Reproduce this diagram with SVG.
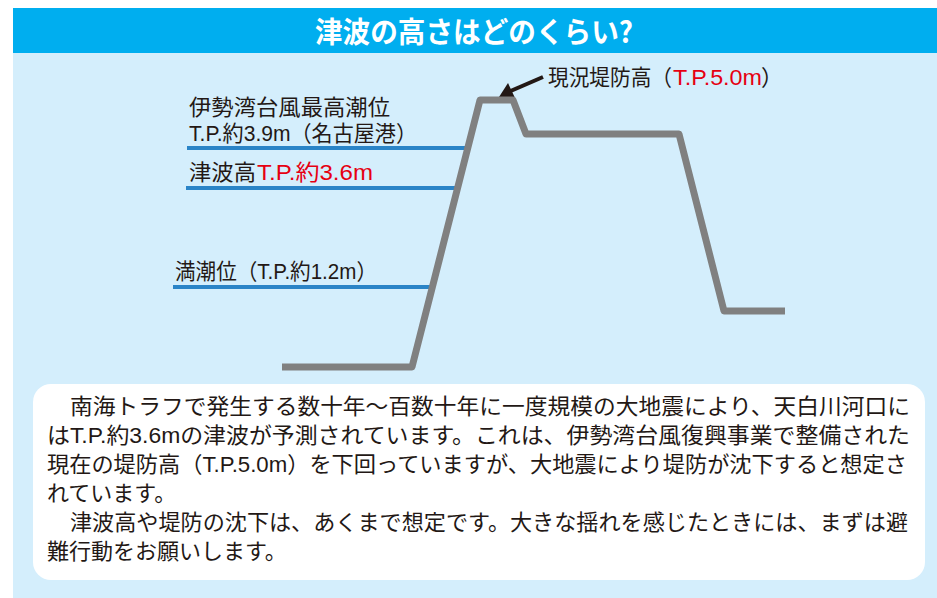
<svg xmlns="http://www.w3.org/2000/svg" width="937" height="598" viewBox="0 0 937 598">
  <style>
    .jp { font-family: "Liberation Sans", "Noto Sans CJK JP", sans-serif; fill: #231815; }
    .lbl { font-size: 22px; }
    .body { font-size: 22px; }
    .red { fill: #E60012; }
    .level { stroke: #2A84C7; stroke-width: 4; fill: none; }
    .dike { stroke: #808080; stroke-width: 7; fill: none; stroke-linejoin: round; }
  </style>

  <rect width="937" height="598" fill="#ffffff"/>
  <rect id="panel" x="13" y="53" width="924" height="545" fill="#D4EEFC"/>

  <g id="header">
    <rect x="13" y="8" width="924" height="45" fill="#00AEEF"/>
    <text x="315" y="43" textLength="318" lengthAdjust="spacingAndGlyphs" font-family="'Noto Sans CJK JP', sans-serif" font-size="29" font-weight="bold" fill="#ffffff">津波の高さはどのくらい?</text>
  </g>

  <g id="connectors">
    <line class="level" x1="187" y1="148" x2="466" y2="148"/>
    <line class="level" x1="186" y1="188" x2="456" y2="188"/>
    <line class="level" x1="173" y1="287" x2="431" y2="287"/>
    <line x1="543" y1="77" x2="506" y2="93" stroke="#231815" stroke-width="4"/>
    <path d="M499,97 L508,83 L515,98 z" fill="#231815"/>
  </g>

  <g id="dike">
    <polyline class="dike" points="282,367 412,367 480,100 513,100 526,134 679,134 724,311 785,311"/>
  </g>

  <g id="label-isewan">
    <text class="jp lbl" x="189" y="115" textLength="201" lengthAdjust="spacingAndGlyphs">伊勢湾台風最高潮位</text>
    <text class="jp lbl" x="189" y="141" textLength="228" lengthAdjust="spacingAndGlyphs">T.P.約3.9m（名古屋港）</text>
  </g>

  <g id="label-tsunami">
    <text class="jp lbl" x="189" y="180" textLength="67" lengthAdjust="spacingAndGlyphs">津波高</text>
    <text class="jp lbl red" x="257" y="180" textLength="116" lengthAdjust="spacingAndGlyphs">T.P.約3.6m</text>
  </g>

  <g id="label-mancho">
    <text class="jp lbl" x="175" y="279" textLength="202" lengthAdjust="spacingAndGlyphs">満潮位（T.P.約1.2m）</text>
  </g>

  <g id="label-teibou">
    <text class="jp lbl" x="548" y="85" textLength="124" lengthAdjust="spacingAndGlyphs">現況堤防高（</text>
    <text class="jp lbl red" x="673" y="85" textLength="89" lengthAdjust="spacingAndGlyphs">T.P.5.0m</text>
    <text class="jp lbl" x="761" y="85">）</text>
  </g>

  <g id="note">
    <rect x="33" y="384" width="892" height="196" rx="18" ry="18" fill="#ffffff"/>
    <text class="jp body" x="70" y="414" textLength="840" lengthAdjust="spacingAndGlyphs">南海トラフで発生する数十年～百数十年に一度規模の大地震により、天白川河口に</text>
    <text class="jp body" x="47" y="443" textLength="863" lengthAdjust="spacingAndGlyphs">はT.P.約3.6mの津波が予測されています。これは、伊勢湾台風復興事業で整備された</text>
    <text class="jp body" x="47" y="472" textLength="860" lengthAdjust="spacingAndGlyphs">現在の堤防高（T.P.5.0m）を下回っていますが、大地震により堤防が沈下すると想定さ</text>
    <text class="jp body" x="47" y="501">れています。</text>
    <text class="jp body" x="70" y="530" textLength="838" lengthAdjust="spacingAndGlyphs">津波高や堤防の沈下は、あくまで想定です。大きな揺れを感じたときには、まずは避</text>
    <text class="jp body" x="47" y="559">難行動をお願いします。</text>
  </g>
</svg>
